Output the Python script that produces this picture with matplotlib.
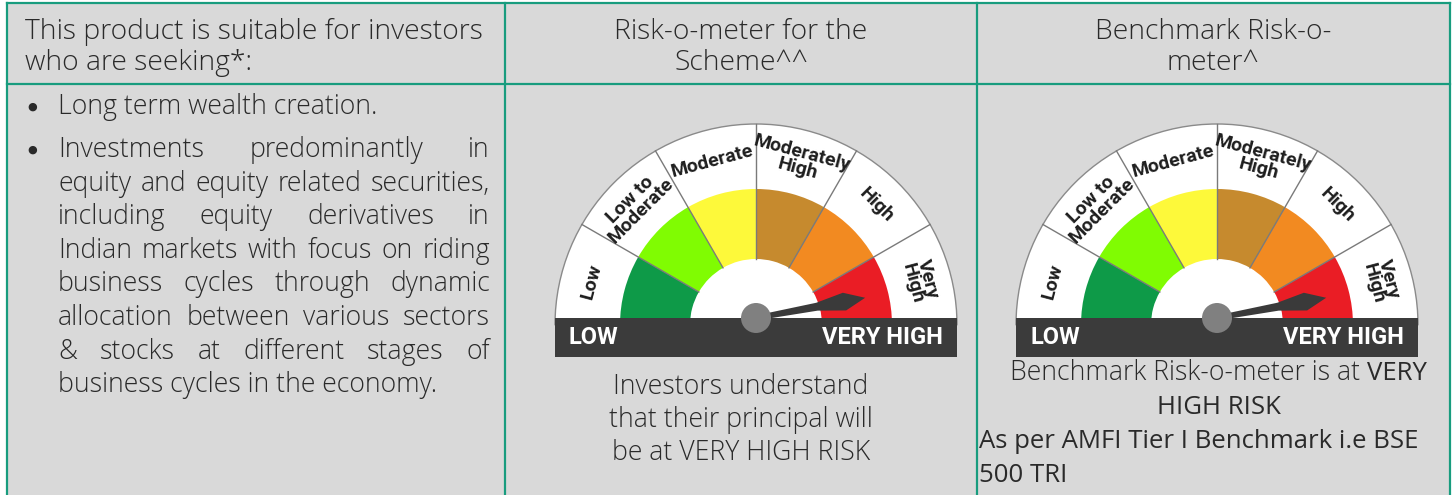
import matplotlib.pyplot as plt
import numpy as np
from matplotlib.patches import Wedge, Rectangle, Circle, Polygon

W, H = 1452, 495

# table text
header_left = ["This product is suitable for investors", "who are seeking*:"]
header_mid = ["Risk-o-meter for the", "Scheme^^"]
header_right = ["Benchmark Risk-o-", "meter^"]
bullet_1 = ["Long term wealth creation."]
bullet_2 = [
    "Investments predominantly in",
    "equity and equity related securities,",
    "including equity derivatives in",
    "Indian markets with focus on riding",
    "business cycles through dynamic",
    "allocation between various sectors",
    "& stocks at different stages of",
    "business cycles in the economy.",
]
scheme_note = ["Investors understand", "that their principal will", "be at VERY HIGH RISK"]
bench_note = ["As per AMFI Tier I Benchmark i.e BSE", "500 TRI"]

# risk-o-meter
risk_levels = ["Low", "Low to\nModerate", "Moderate", "Moderately\nHigh", "High", "Very\nHigh"]
level_colors = ["#0e9a48", "#80fc02", "#fdf93a", "#c68a2e", "#f28a21", "#ea1d25"]
scheme_needle = 5.65   # position on 0..6 scale
bench_needle = 5.65

GREEN = "#189c7e"
BG = "#d9d9d9"
TXT = "#2a2a2a"
FONT = ["Open Sans", "DejaVu Sans"]
NARROW = ["Roboto", "DejaVu Sans"]

fig = plt.figure(figsize=(W / 100, H / 100), dpi=100)
ax = fig.add_axes([0, 0, 1, 1])
ax.set_xlim(0, W)
ax.set_ylim(H, 0)
ax.axis("off")

ax.add_patch(Rectangle((7, 3), 1443, 500, fc=BG, ec="none", zorder=0))
lw = 1.6
ax.plot([7, 1450], [3, 3], color=GREEN, lw=lw)
ax.plot([7, 1450], [84, 84], color=GREEN, lw=lw)
for x in [7, 505, 977, 1450]:
    ax.plot([x, x], [3, H + 5], color=GREEN, lw=lw)

fs = 19.2
txt_kw = dict(fontsize=fs, color=TXT, family=FONT, fontweight="light", va="center")
head_kw = dict(txt_kw, fontsize=20.3)

# headers
for i, line in enumerate(header_left):
    ax.text(25, 32 + 31 * i, line, ha="left", **head_kw)
for i, line in enumerate(header_mid):
    ax.text(741, 32 + 31 * i, line, ha="center", **head_kw)
for i, line in enumerate(header_right):
    ax.text(1213, 32 + 31 * i, line, ha="center", **head_kw)

renderer = fig.canvas.get_renderer()


def text_width(s, **kw):
    t = ax.text(0, 0, s, **kw)
    bb = t.get_window_extent(renderer)
    t.remove()
    return bb.width


def justified(line, x0, x1, y):
    words = line.split()
    widths = [text_width(w, **txt_kw) for w in words]
    gap = (x1 - x0 - sum(widths)) / (len(words) - 1)
    x = x0
    for w, wd in zip(words, widths):
        ax.text(x, y, w, ha="left", **txt_kw)
        x += wd + gap


# left body
ax.text(32, 107, "\u25cf", ha="center", fontsize=8, color=TXT, family=FONT, va="center")
ax.text(58, 107, bullet_1[0], ha="left", **txt_kw)
ax.text(32, 150, "\u25cf", ha="center", fontsize=8, color=TXT, family=FONT, va="center")
for i, line in enumerate(bullet_2):
    y = 150 + 33.6 * i
    if i < len(bullet_2) - 1:
        justified(line, 58, 490, y)
    else:
        ax.text(58, y, line, ha="left", **txt_kw)

# middle note
for i, line in enumerate(scheme_note):
    ax.text(741, 387 + 33 * i, line, ha="center", **txt_kw)

# right note
part_a = "Benchmark Risk-o-meter is at "
part_b = "VERY"
reg_kw = dict(txt_kw, fontweight="normal", fontsize=18.5)
wa = text_width(part_a, **txt_kw)
wb = text_width(part_b, **reg_kw)
xs = 1218 - (wa + wb) / 2
ax.text(xs, 373, part_a, ha="left", **txt_kw)
ax.text(xs + wa, 373, part_b, ha="left", **reg_kw)
ax.text(1219, 407, "HIGH RISK", ha="center", **reg_kw)
for i, line in enumerate(bench_note):
    ax.text(979, 442 + 33 * i, line, ha="left", **reg_kw)


def draw_meter(cx, needle):
    cy = 325
    left = (cx - 205) / W
    bottom = (H - (cy + 35)) / H
    g = fig.add_axes([left, bottom, 410 / W, 242 / H])
    g.set_xlim(-205, 205)
    g.set_ylim(-35, 207)
    g.axis("off")

    R, r_out, r_in = 201, 136, 66
    g.add_patch(Wedge((0, 0), R, 0, 180, fc="white", ec="#8a8a8a", lw=1.0))
    for i, (name, col) in enumerate(zip(risk_levels, level_colors)):
        a1 = 180 - 30 * i
        a0 = a1 - 30
        g.add_patch(Wedge((0, 0), r_out, a0, a1, width=r_out - r_in, fc=col, ec="none"))
        mid = np.radians((a0 + a1) / 2)
        g.text(170 * np.cos(mid), 170 * np.sin(mid), name, rotation=(a0 + a1) / 2 - 90,
               ha="center", va="center", multialignment="center", fontsize=14,
               fontweight="bold", family=NARROW, color="#1e1e1e", linespacing=0.8,
               rotation_mode="anchor")
    for k in range(1, 6):
        a = np.radians(180 - 30 * k)
        g.plot([r_in * np.cos(a), R * np.cos(a)], [r_in * np.sin(a), R * np.sin(a)],
               color="#7a7a7a", lw=1.0)

    g.add_patch(Rectangle((-201, -32), 402, 39, fc="#3b3b3b", ec="none", zorder=3))
    g.text(-187, -12.5, "LOW", ha="left", va="center", color="white", fontsize=17,
           fontweight="bold", family=NARROW, zorder=4)
    g.text(187, -12.5, "VERY HIGH", ha="right", va="center", color="white", fontsize=17,
           fontweight="bold", family=NARROW, zorder=4)

    th = np.radians(180 - 30 * needle)
    local = np.array([[0, 2.5], [62, 4], [90, 9], [111, 0], [90, -9], [62, -4], [0, -2.5]])
    rot = np.array([[np.cos(th), -np.sin(th)], [np.sin(th), np.cos(th)]])
    pts = local @ rot.T + np.array([0, 7])
    g.add_patch(Polygon(pts, closed=True, fc="#3a3a3a", ec="none", zorder=5))
    g.add_patch(Circle((0, 7), 15, fc="#808080", ec="none", zorder=6))


draw_meter(756, scheme_needle)
draw_meter(1217, bench_needle)

fig.savefig("out.png", dpi=100)
